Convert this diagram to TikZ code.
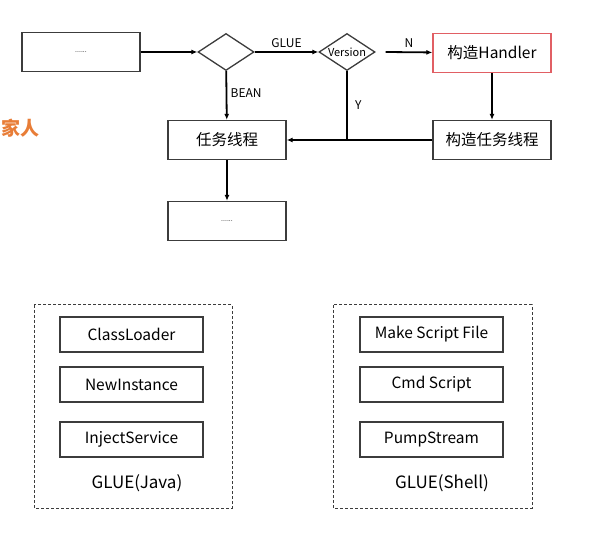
\documentclass[tikz,border=0pt]{standalone}
\usepackage{fontspec}
\setmainfont{Noto Sans CJK SC}
\usepackage{xcolor}
\usetikzlibrary{arrows.meta,shapes.geometric,positioning}
\definecolor{boxgray}{RGB}{60, 60, 60}
\definecolor{softred}{RGB}{225, 95, 100}
\definecolor{tagorange}{RGB}{232, 125, 55}

\begin{document}
\begin{tikzpicture}[x=1pt, y=-1pt, >={Latex[length=6pt,width=5pt]},
    procbox/.style={draw=boxgray, line width=1.3pt, minimum width=118pt, minimum height=39pt, inner sep=0pt, font=\fontsize{15.5}{18}\selectfont},
    smallbox/.style={draw=boxgray, line width=1.3pt, minimum width=143pt, minimum height=35pt, inner sep=0pt, font=\fontsize{15.5}{18}\selectfont},
    decision/.style={draw=boxgray, line width=1.3pt, diamond, minimum width=56pt, minimum height=37pt, inner sep=0pt},
    group/.style={draw=boxgray, line width=1pt, dash pattern=on 3pt off 2pt},
    flow/.style={line width=1.8pt, ->},
    tag/.style={font=\fontsize{12}{14}\selectfont}]
        \useasboundingbox (0,0) rectangle (602,534);

        % Top flow
        \node[procbox] (start) at (81,52) {\scriptsize ......};
        \node[decision, fill=white] (kind) at (226,52) {};
        \node[decision, label={[font=\fontsize{11}{12}\selectfont, inner sep=0pt]center:Version}] (ver) at (347,52) {};
        \node[procbox, draw=softred] (handler) at (492,53) {构造Handler};
        \node[procbox] (mktask) at (492,140) {构造任务线程};
        \node[procbox] (task) at (227,140) {任务线程};
        \node[procbox] (next) at (227,221) {\scriptsize ......};

        % Side tag
        \node[anchor=west, inner sep=0pt, text=tagorange, font=\fontsize{19}{22}\selectfont\bfseries] (family) at (1,128) {家人};

        % Connectors
        \draw[flow] (start) -- (kind);
        \draw[flow] (kind) -- node[tag, above] {GLUE} (ver);
        \draw[flow] ([xshift=10pt]ver.east) -- node[tag, above] {N} (handler);
        \draw[flow] (kind) -- node[tag, right, pos=0.45] {BEAN} (task);
        \draw[flow] (handler) -- (mktask);
        \coordinate (join) at (ver |- task);
        \draw[line width=1.8pt] (ver.south) -- node[tag, right=4pt] {Y} (join);
        \draw[flow] (mktask) -- (task);
        \draw[flow] (task) -- (next);

        % GLUE(Java)
        \draw[group] (34,305) rectangle (232,508);
        \node[smallbox] (loader) at (131.5,334.5) {ClassLoader};
        \node[smallbox] (newinst) at (131.5,384.5) {NewInstance};
        \node[smallbox] (inject) at (131.5,439.5) {InjectService};
        \node[font=\fontsize{17}{20}\selectfont] (java) at (137,483) {GLUE(Java)};

        % GLUE(Shell)
        \draw[group] (333,305) rectangle (532,508);
        \node[smallbox] (mkfile) at (431.5,334.5) {Make Script File};
        \node[smallbox] (cmd) at (431.5,384.5) {Cmd Script};
        \node[smallbox] (pump) at (431.5,439.5) {PumpStream};
        \node[font=\fontsize{17}{20}\selectfont] (shell) at (442,483) {GLUE(Shell)};
\end{tikzpicture}
\end{document}
